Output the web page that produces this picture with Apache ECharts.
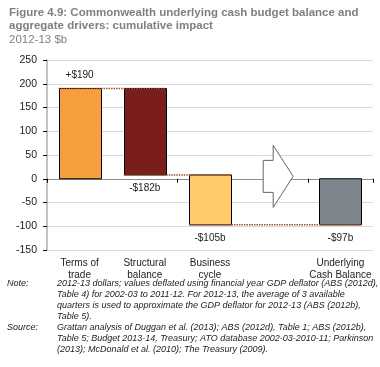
<!DOCTYPE html>
<html><head><meta charset="utf-8">
<script src="https://cdn.jsdelivr.net/npm/echarts@6/dist/echarts.min.js"></script>
<style>html,body{margin:0;padding:0;background:#fff}#c{width:380px;height:367px}</style>
</head><body><div id="c"></div>
<script>
// ---- data ----
const categories = ['Terms of\ntrade', 'Structural\nbalance', 'Business\ncycle', '', 'Underlying\nCash Balance'];
const changes = [190, -182, -105, null, 'total'];
const barLabels = ['+$190', '-$182b', '-$105b', '', '-$97b'];
const barColors = ['#F79E3F', '#7A1D1D', '#FFCA6A', null, '#7E858C'];
const yMin = -150, yMax = 250, yStep = 50;
const arrowCategory = 3;
const titleLines = ['Figure 4.9: Commonwealth underlying cash budget balance and', 'aggregate drivers: cumulative impact'];
const unitLine = '2012-13 $b';
const noteLines = [
  '2012-13 dollars; values deflated using financial year GDP deflator (ABS (2012d),',
  'Table 4) for 2002-03 to 2011-12. For 2012-13, the average of 3 available',
  'quarters is used to approximate the GDP deflator for 2012-13 (ABS (2012b),',
  'Table 5).'
];
const sourceLines = [
  'Grattan analysis of Duggan et al. (2013); ABS (2012d), Table 1; ABS (2012b),',
  'Table 5; Budget 2013-14, Treasury; ATO database 2002-03-2010-11; Parkinson',
  '(2013); McDonald et al. (2010); The Treasury (2009).'
];

// ---- build waterfall segments ----
const bars = [];
let cum = 0;
changes.forEach((c, i) => {
  if (c === null) return;
  if (c === 'total') { bars.push({ i, s: 0, e: cum, label: barLabels[i], color: barColors[i] }); return; }
  bars.push({ i, s: cum, e: cum + c, label: barLabels[i], color: barColors[i] });
  cum += c;
});
const connectors = [];
for (let k = 0; k < bars.length - 1; k++) connectors.push([bars[k].i, bars[k + 1].i, bars[k].e]);

const BAR_FRAC = 0.645;
const FONT = '"Liberation Sans", Arial, sans-serif';

const chart = echarts.init(document.getElementById('c'), null, { renderer: 'canvas' });

const graphics = [];
titleLines.forEach((t, k) => graphics.push({ type: 'text', left: 9, top: 7 + k * 13.3, style: { text: t, font: 'bold 11.5px ' + FONT, fill: '#7F7F7F' } }));
graphics.push({ type: 'text', left: 9, top: 33.5, style: { text: unitLine, font: '11.5px ' + FONT, fill: '#7F7F7F' } });
const NOTE_Y = 278.5, LH = 11, NF = 'italic 9px ' + FONT;
graphics.push({ type: 'text', left: 7, top: NOTE_Y, style: { text: 'Note:', font: NF, fill: '#222' } });
noteLines.forEach((t, k) => graphics.push({ type: 'text', left: 57, top: NOTE_Y + k * LH, style: { text: t, font: NF, fill: '#222' } }));
const SRC_Y = NOTE_Y + noteLines.length * LH;
graphics.push({ type: 'text', left: 7, top: SRC_Y, style: { text: 'Source:', font: NF, fill: '#222' } });
sourceLines.forEach((t, k) => graphics.push({ type: 'text', left: 57, top: SRC_Y + k * LH, style: { text: t, font: NF, fill: '#222' } }));

chart.setOption({
  animation: false,
  grid: { left: 47, right: 7, top: 60, bottom: 117 },
  graphic: graphics,
  xAxis: [
    { type: 'category', data: categories, position: 'bottom',
      axisLine: { show: false, onZero: false }, axisTick: { show: false },
      axisLabel: { margin: 7, fontSize: 10, color: '#222', lineHeight: 12, fontFamily: FONT, interval: 0 } },
    { type: 'category', data: categories, position: 'bottom',
      axisLine: { show: true, onZero: true, lineStyle: { color: '#8C8C8C', width: 1 } },
      axisTick: { show: true, length: 4, lineStyle: { color: '#000' } },
      axisLabel: { show: false } }
  ],
  yAxis: {
    type: 'value', min: yMin, max: yMax, interval: yStep,
    axisLine: { show: true, lineStyle: { color: '#ADADAD', width: 1.5 } },
    axisTick: { show: true, length: 4, lineStyle: { color: '#000' } },
    axisLabel: { margin: 10, fontSize: 10.5, color: '#222', fontFamily: FONT },
    splitLine: { lineStyle: { color: '#D9D9D9' } }
  },
  series: [
    { type: 'custom', xAxisIndex: 0, z: 3,
      data: bars.map(b => [b.i, b.s, b.e]),
      renderItem(params, api) {
        const b = bars[params.dataIndex];
        const p0 = api.coord([api.value(0), api.value(1)]);
        const p1 = api.coord([api.value(0), api.value(2)]);
        const w = api.size([1, 0])[0] * BAR_FRAC;
        const top = Math.min(p0[1], p1[1]), h = Math.abs(p1[1] - p0[1]);
        const up = api.value(2) > api.value(1);
        return { type: 'group', children: [
          { type: 'rect', shape: { x: Math.round(p0[0] - w / 2) + 0.5, y: top, width: Math.round(w), height: h },
            style: { fill: b.color, stroke: '#000', lineWidth: 1 } },
          { type: 'text', x: p0[0], y: up ? top - 8 : top + h + 8,
            style: { text: b.label, fill: '#222', font: '10px ' + FONT, align: 'center', verticalAlign: up ? 'bottom' : 'top' } }
        ] };
      } },
    { type: 'custom', xAxisIndex: 0, z: 4, data: connectors,
      renderItem(params, api) {
        const a = api.coord([api.value(0), api.value(2)]);
        const b = api.coord([api.value(1), api.value(2)]);
        const w = api.size([1, 0])[0] * BAR_FRAC;
        return { type: 'line', shape: { x1: a[0] - w / 2, y1: a[1], x2: b[0] + w / 2, y2: a[1] },
          style: { stroke: '#A0522D', lineWidth: 1.5, lineDash: [1.5, 1] } };
      } },
    { type: 'custom', xAxisIndex: 0, z: 5, data: [[arrowCategory, 5]],
      renderItem(params, api) {
        const c = api.coord([api.value(0), api.value(1)]);
        const x = c[0], y = c[1];
        const pts = [[x - 12, y - 16], [x - 2, y - 16], [x - 2, y - 31], [x + 18, y], [x - 2, y + 31], [x - 2, y + 16], [x - 12, y + 16]];
        return { type: 'polygon', shape: { points: pts }, style: { fill: '#fff', stroke: '#666', lineWidth: 1 } };
      } }
  ]
});
</script></body></html>
